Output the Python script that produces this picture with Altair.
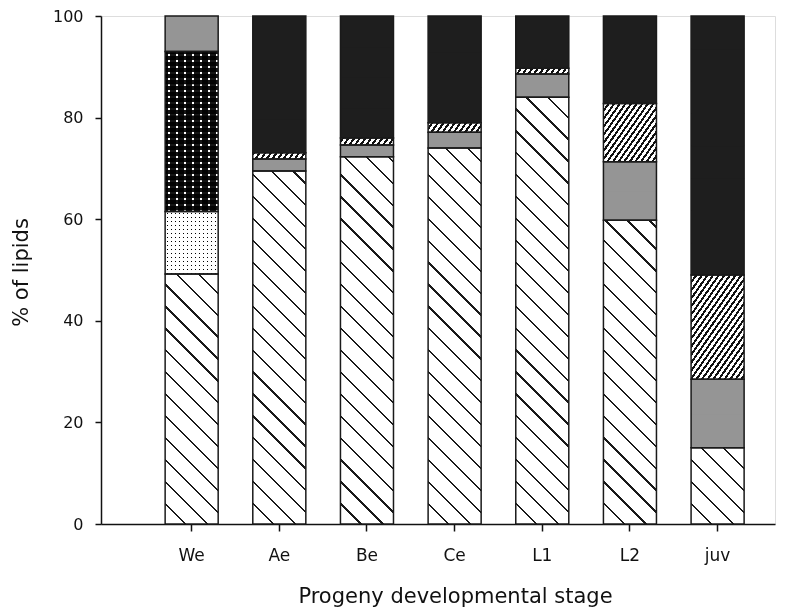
import math
import altair as alt

# ---------------- data ----------------
stages = ["We", "Ae", "Be", "Ce", "L1", "L2", "juv"]
components = ["hatch_back", "dots_light", "dots_dark", "gray", "hatch_fwd", "black"]
hatch_back = [49.2, 69.5, 72.3, 74.0, 84.0, 59.8, 15.0]
dots_light = [12.3, 0, 0, 0, 0, 0, 0]
dots_dark = [31.5, 0, 0, 0, 0, 0, 0]
gray = [7.0, 2.35, 2.3, 3.1, 4.6, 11.5, 13.5]
hatch_fwd = [0, 1.25, 1.4, 1.9, 1.1, 11.5, 20.5]
black = [0, 26.9, 24.0, 21.0, 10.3, 17.2, 51.0]
y_ticks = [0, 20, 40, 60, 80, 100]

series = {
    "hatch_back": hatch_back,
    "dots_light": dots_light,
    "dots_dark": dots_dark,
    "gray": gray,
    "hatch_fwd": hatch_fwd,
    "black": black,
}

# ---------------- layout / style ----------------
W, H = 674, 508
PAD_IN, PAD_OUT, ALIGN = 0.395, 0.542, 0.675
N = len(stages)
STEP = W / (N - PAD_IN + 2 * PAD_OUT)
BAND_START = (W - STEP * (N - PAD_IN)) * ALIGN
BAR_W = STEP * (1 - PAD_IN)
PX_PER_UNIT = H / 100.0
CHUNK_PX = 36.0          # texture tiles are drawn in short pieces for crisp stripes
OVERLAP = 0.15           # data units of overlap between pieces (hides seams)
FONT = "DejaVu Sans"


def stripes(X0, Y0, w, h, angle_deg, period, thick, bg, fg, phase=0.0):
    """Linear gradient (bbox units) drawing stripes at a fixed pixel angle,
    continuous in page space (so tiles of one segment line up)."""
    th = math.radians(angle_deg)
    nx, ny = -math.sin(th), math.cos(th)
    svals = [nx * x + ny * y for x, y in [(0, 0), (w, 0), (0, h), (w, h)]]
    smin, smax = min(svals), max(svals)
    S = smax - smin
    a, b, c = nx * w / S, ny * h / S, -smin / S
    d = a * a + b * b
    x1, y1 = -c * a / d, -c * b / d
    x2, y2 = x1 + a / d, y1 + b / d
    off = nx * X0 + ny * Y0 + smin
    k = math.floor((off - phase - thick) / period)
    stops = [{"offset": 0, "color": bg}]
    s = k * period + phase - off
    while s < S:
        o0, o1 = max(0.0, s / S), min(1.0, (s + thick) / S)
        if o1 > o0:
            o0, o1 = round(o0, 6), round(o1, 6)
            stops += [{"offset": o0, "color": bg}, {"offset": o0, "color": fg},
                      {"offset": o1, "color": fg}, {"offset": o1, "color": bg}]
        s += period
    stops.append({"offset": 1, "color": bg})
    return {"gradient": "linear", "x1": round(x1, 6), "y1": round(y1, 6),
            "x2": round(x2, 6), "y2": round(y2, 6), "stops": stops}


def fills(comp, X0, Y0, h):
    w = BAR_W
    if comp == "hatch_back":
        return stripes(X0, Y0, w, h, 45, 15.5, 1.6, "#ffffff", "#1a1a1a", 4.0), None
    if comp == "hatch_fwd":
        return stripes(X0, Y0, w, h, -55, 4.6, 2.0, "#ffffff", "#111111", 0.5), None
    if comp == "dots_light":
        return (stripes(X0, Y0, w, h, 90, 4.0, 1.3, "#ffffff", "#000000", 1.0),
                stripes(X0, Y0, w, h, 0, 4.0, 1.3, "#ffffff", "#000000", 1.0))
    if comp == "dots_dark":
        return (stripes(X0, Y0, w, h, 90, 8.0, 1.9, "#151515", "#ffffff", 3.0),
                stripes(X0, Y0, w, h, 0, 6.0, 1.9, "#151515", "#ffffff", 2.0))
    if comp == "gray":
        return "#959595", None
    return "#1e1e1e", None


segments = []   # one record per stacked segment (outlines)
pieces = []     # texture pieces of each segment (fills)
for i, st in enumerate(stages):
    cum = 0.0
    X0 = BAND_START + i * STEP
    for comp in components:
        v = series[comp][i]
        if v <= 0:
            continue
        lo, hi = cum, cum + v
        segments.append({"stage": st, "comp": comp, "y0": lo, "y1": hi})
        n_pc = max(1, math.ceil(v * PX_PER_UNIT / CHUNK_PX))
        for p in range(n_pc):
            p_lo = lo + v * p / n_pc
            p_hi = lo + v * (p + 1) / n_pc
            if p > 0:
                p_lo -= OVERLAP
            Y0 = (100 - p_hi) * PX_PER_UNIT
            hpx = (p_hi - p_lo) * PX_PER_UNIT
            fa, fb = fills(comp, X0, Y0, hpx)
            rec = {"stage": st, "comp": comp, "y0": p_lo, "y1": p_hi, "fa": fa}
            if fb is not None:
                rec["fb"] = fb
            pieces.append(rec)
        cum = hi

x_enc = alt.X(
    "stage:N",
    sort=stages,
    scale=alt.Scale(domain=stages, paddingInner=PAD_IN, paddingOuter=PAD_OUT,
                    align=ALIGN, round=False),
    axis=alt.Axis(
        title="Progeny developmental stage", labelAngle=0,
        labelFont=FONT, labelFontSize=17, labelColor="#111111", labelPadding=16,
        tickSize=7, tickColor="#111111", tickWidth=1.5,
        domainColor="#111111", domainWidth=1.5,
        titleFont=FONT, titleFontSize=21, titleFontWeight="normal", titleColor="#111111",
        titleX=354, titleY=78, titleBaseline="alphabetic", titleAlign="center",
    ),
)
y_enc = alt.Y(
    "y0:Q",
    stack=None,
    scale=alt.Scale(domain=[0, 100], nice=False, zero=True),
    axis=alt.Axis(
        title="% of lipids", values=y_ticks, grid=False,
        labelFont=FONT, labelFontSize=16, labelColor="#111111", labelPadding=12,
        tickSize=6, tickColor="#111111", tickWidth=1.5,
        domainColor="#111111", domainWidth=1.5,
        titleFont=FONT, titleFontSize=21, titleFontWeight="normal", titleColor="#111111",
        titleX=-74, titleY=256, titleBaseline="alphabetic", titleAlign="center", titleAngle=-90,
    ),
)

piece_base = alt.Chart(alt.Data(values=pieces)).encode(x=x_enc, y=y_enc, y2="y1:Q")
seg_base = alt.Chart(alt.Data(values=segments)).encode(x=x_enc, y=y_enc, y2="y1:Q")

layer_fill = piece_base.mark_bar(strokeWidth=0).encode(fill=alt.Fill("fa:N", scale=None))
layer_dark_dots = (
    piece_base.transform_filter(alt.datum.comp == "dots_dark")
    .mark_bar(strokeWidth=0, blend="multiply")
    .encode(fill=alt.Fill("fb:N", scale=None))
)
layer_light_dots = (
    piece_base.transform_filter(alt.datum.comp == "dots_light")
    .mark_bar(strokeWidth=0, blend="screen")
    .encode(fill=alt.Fill("fb:N", scale=None))
)
layer_outline = seg_base.mark_bar(fillOpacity=0, stroke="#1a1a1a", strokeWidth=1.5)

chart = (
    alt.layer(layer_fill, layer_dark_dots, layer_light_dots, layer_outline)
    .properties(width=W, height=H, autosize="none",
                padding={"left": 101, "top": 16, "right": 23, "bottom": 87},
                background="white")
    .configure_view(stroke=None)
    .configure(font=FONT)
)

chart.save("out.html", embed_options={"renderer": "svg", "actions": False})
